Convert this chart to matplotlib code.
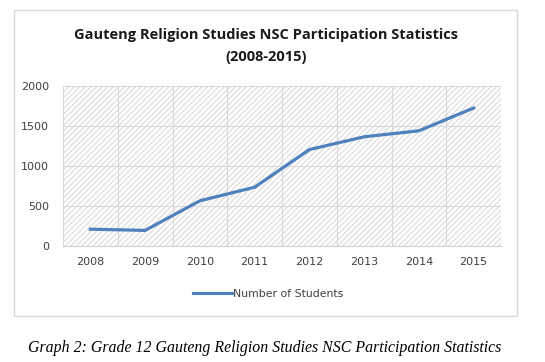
import matplotlib.pyplot as plt
from matplotlib.patches import Rectangle

years = ['2008', '2009', '2010', '2011', '2012', '2013', '2014', '2015']
students = [210, 195, 565, 735, 1205, 1365, 1440, 1725]

W, H = 545, 362
fig = plt.figure(figsize=(W / 100, H / 100), dpi=100)
fig.patch.set_facecolor('white')

# outer chart frame
fig.add_artist(Rectangle((14 / W, 1 - 316 / H), (517 - 14) / W, (316 - 10) / H,
                         transform=fig.transFigure, fill=False,
                         edgecolor='#d9d9d9', linewidth=1))

ax = fig.add_axes([63 / W, 1 - 246 / H, (501 - 63) / W, (246 - 86) / H])
x = list(range(len(years)))

# hatched plot area
ax.add_patch(Rectangle((-0.5, 0), 8, 2000, facecolor='white', edgecolor='#e0e0e0',
                       hatch='//////', linewidth=0, zorder=0))
for i in range(len(years) + 1):
    ax.axvline(i - 0.5, color='#d9d9d9', linewidth=0.8, zorder=1)
for v in [500, 1000, 1500, 2000]:
    ax.axhline(v, color='#d9d9d9', linewidth=0.8, zorder=1)

ax.plot(x, students, color='#4f81bd', linewidth=2.3, label='Number of Students', zorder=3)

ax.set_xlim(-0.5, 7.5)
ax.set_ylim(0, 2000)
ax.set_yticks([0, 500, 1000, 1500, 2000])
ax.set_xticks(x)
ax.set_xticklabels(years)
ax.tick_params(length=0, labelsize=8, colors='#404040')
ax.tick_params(axis='x', pad=8)
ax.tick_params(axis='y', pad=10)
for s in ['top', 'right', 'left']:
    ax.spines[s].set_visible(False)
ax.spines['bottom'].set_color('#d0d0d0')

fig.text(266 / W, 1 - 46 / H, 'Gauteng Religion Studies NSC Participation Statistics\n(2008-2015)',
         ha='center', va='center', fontsize=10.5, fontweight='bold', family='Open Sans',
         linespacing=1.7, color='#1a1a1a')

leg = fig.legend(loc='center', bbox_to_anchor=(268 / W, 1 - 294 / H), frameon=False,
                 fontsize=7.8, handlelength=3.6, handletextpad=0.05)
for t in leg.get_texts():
    t.set_color('#404040')

fig.text(265 / W, 1 - 348 / H, 'Graph 2: Grade 12 Gauteng Religion Studies NSC Participation Statistics',
         ha='center', va='center', fontsize=11.4, style='italic', family='Liberation Serif')

fig.savefig('out.png', dpi=100)
